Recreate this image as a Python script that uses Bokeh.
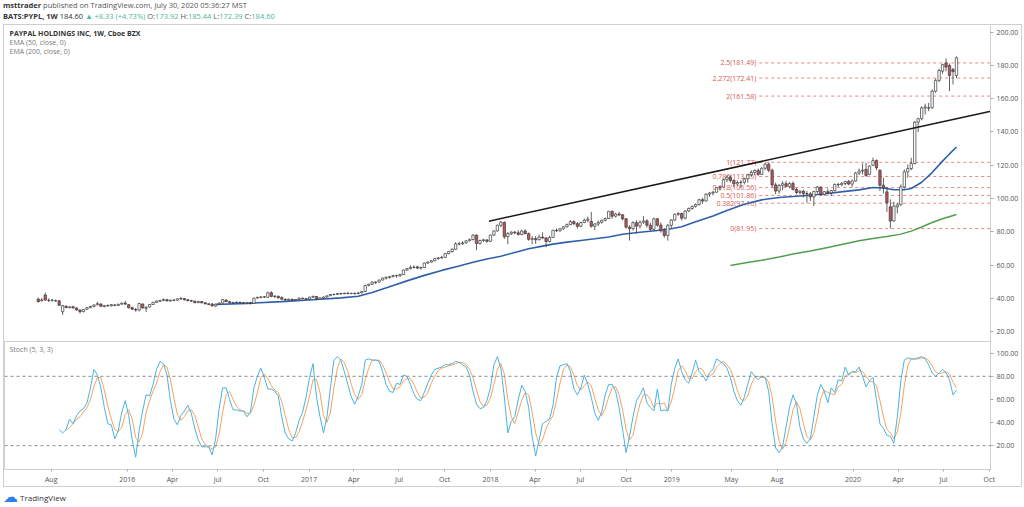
import numpy as np
import pandas as pd
from bokeh.plotting import figure
from bokeh.models import (FixedTicker, PrintfTickFormatter, Label, Div,
                          Range1d, Span)
from bokeh.layouts import column
from bokeh.embed import file_html
from bokeh.resources import INLINE
from bokeh.core.properties import value

# ---------------- data ----------------
first_week = "2015-07-06"

opens = [
    39.5, 39.0, 42.0, 38.8, 38.9, 38.6, 38.5, 32.0, 35.2, 34.4,
    34.9, 34.2, 33.0, 32.0, 33.4, 34.4, 35.1, 36.1, 36.6, 35.0,
    35.6, 35.5, 36.0, 35.8, 36.5, 37.2, 36.2, 34.4, 33.3, 33.0,
    36.6, 34.0, 34.8, 36.3, 37.6, 38.2, 38.8, 39.2, 38.4, 38.9,
    38.9, 39.7, 39.9, 39.2, 38.6, 38.3, 37.4, 38.1, 37.3, 36.7,
    36.6, 35.4, 36.6, 37.2, 39.0, 38.0, 37.3, 37.5, 37.6, 37.4,
    37.1, 37.2, 37.0, 40.2, 40.6, 40.9, 40.6, 43.4, 41.1, 41.3,
    40.4, 39.4, 39.0, 39.4, 38.9, 39.3, 40.0, 39.8, 39.6, 40.7,
    41.1, 39.5, 40.2, 40.8, 41.6, 42.3, 42.4, 42.9, 42.8, 43.1,
    42.9, 43.0, 42.9, 43.3, 44.1, 47.8, 48.5, 49.7, 49.8, 51.0,
    52.2, 52.6, 53.0, 53.7, 53.5, 54.3, 57.0, 57.9, 58.6, 58.9,
    58.2, 58.5, 61.2, 61.8, 62.6, 63.9, 64.3, 64.6, 66.9, 68.1,
    69.5, 72.7, 72.8, 73.4, 74.6, 75.3, 78.0, 73.0, 74.8, 75.1,
    74.3, 78.0, 80.5, 83.9, 85.6, 77.0, 78.9, 79.8, 79.4, 78.4,
    80.5, 78.9, 75.5, 75.9, 75.2, 76.8, 76.3, 74.2, 76.6, 80.9,
    80.6, 81.8, 83.0, 84.3, 86.1, 84.9, 83.3, 85.6, 86.9, 86.3,
    83.3, 84.7, 85.7, 86.9, 88.0, 92.3, 89.4, 90.7, 90.2, 87.8,
    82.8, 81.9, 85.5, 83.4, 85.8, 86.5, 84.0, 81.5, 87.8, 84.0,
    80.6, 77.8, 83.9, 87.1, 90.5, 91.0, 88.2, 92.5, 94.0, 95.3,
    96.4, 99.3, 98.5, 102.6, 103.3, 103.8, 106.5, 106.9, 111.3, 112.8,
    110.9, 108.8, 109.6, 109.8, 111.8, 114.3, 115.7, 116.9, 114.5, 118.2,
    120.6, 117.0, 108.2, 104.5, 107.9, 108.9, 107.3, 109.0, 105.5, 103.6,
    104.4, 103.0, 102.8, 101.0, 104.2, 106.9, 102.5, 104.1, 103.4, 104.8,
    108.5, 108.3, 109.0, 110.2, 108.7, 110.5, 115.3, 116.5, 117.5, 114.5,
    120.0, 122.8, 117.0, 108.0, 104.0, 95.0, 86.5, 95.0, 96.2, 107.0,
    116.0, 118.0, 121.0, 145.9, 148.0, 154.5, 154.2, 154.6, 164.5, 171.0,
    176.5, 181.5, 180.0, 177.5, 173.92,
]
highs = [
    40.5, 40.2, 43.5, 40.0, 39.4, 39.3, 38.9, 36.0, 35.8, 35.2,
    35.6, 34.6, 33.3, 33.6, 34.6, 35.6, 36.4, 37.9, 37.0, 35.9,
    36.4, 36.6, 36.5, 36.8, 37.5, 38.5, 36.6, 35.0, 34.2, 37.3,
    36.9, 35.2, 36.6, 37.8, 38.7, 39.0, 39.9, 39.6, 39.2, 39.5,
    40.0, 40.9, 40.2, 39.6, 39.1, 38.7, 38.5, 38.3, 37.8, 37.1,
    37.2, 36.8, 37.5, 39.6, 39.4, 38.5, 37.9, 38.1, 38.0, 37.8,
    37.6, 37.9, 40.4, 41.0, 41.2, 41.4, 44.0, 44.3, 41.8, 41.5,
    41.2, 39.9, 39.8, 39.8, 39.6, 40.5, 40.6, 40.2, 41.0, 41.6,
    41.3, 40.6, 41.0, 41.7, 42.6, 42.9, 43.2, 43.3, 43.4, 43.6,
    43.3, 43.5, 43.6, 44.5, 48.2, 48.8, 50.2, 50.3, 51.2, 52.6,
    53.0, 53.5, 54.1, 54.2, 54.8, 57.2, 58.1, 59.9, 59.8, 59.6,
    59.0, 61.5, 62.1, 63.0, 64.2, 64.9, 65.6, 67.3, 68.4, 70.0,
    73.8, 73.9, 74.4, 74.9, 76.0, 78.6, 78.4, 75.2, 75.8, 75.6,
    78.3, 80.8, 84.4, 86.4, 86.3, 79.8, 80.3, 80.5, 81.0, 81.2,
    81.5, 79.6, 77.5, 77.4, 78.3, 79.7, 76.9, 77.6, 81.3, 82.0,
    82.3, 83.4, 85.0, 87.0, 86.8, 85.8, 86.0, 88.0, 89.1, 92.0,
    85.2, 86.8, 87.2, 88.6, 92.6, 92.8, 91.3, 91.9, 90.6, 88.2,
    84.0, 86.3, 87.0, 86.8, 89.4, 87.6, 85.6, 88.6, 88.4, 85.6,
    82.3, 84.6, 87.6, 91.0, 91.8, 91.5, 93.0, 94.6, 95.8, 97.0,
    99.8, 100.4, 103.2, 104.0, 104.6, 106.8, 107.4, 111.8, 113.8, 114.0,
    111.5, 110.9, 111.0, 112.5, 114.8, 117.0, 117.5, 118.0, 118.8, 121.5,
    121.8, 118.0, 109.5, 108.7, 110.4, 110.6, 110.0, 110.3, 106.4, 105.0,
    105.3, 104.5, 103.9, 104.6, 107.6, 107.3, 104.5, 106.0, 105.2, 109.0,
    109.4, 109.9, 110.6, 111.2, 111.5, 116.0, 118.0, 121.0, 121.5, 120.0,
    124.5, 123.5, 117.5, 112.5, 107.0, 99.5, 98.0, 97.5, 108.5, 117.5,
    120.5, 124.5, 146.5, 148.5, 155.5, 157.0, 157.5, 165.5, 172.0, 178.0,
    181.0, 184.3, 181.2, 178.5, 185.44,
]
lows = [
    37.6, 38.0, 38.5, 37.8, 38.0, 37.8, 35.6, 30.0, 34.0, 34.0,
    34.0, 32.6, 30.9, 31.6, 33.1, 34.0, 34.6, 35.8, 35.0, 34.7,
    35.2, 35.1, 35.3, 35.4, 36.2, 36.4, 34.0, 33.0, 32.0, 32.2,
    33.8, 31.8, 34.5, 36.0, 37.3, 37.8, 38.3, 38.2, 38.1, 38.3,
    38.5, 39.0, 38.6, 38.2, 37.9, 37.0, 37.1, 37.0, 36.5, 35.9,
    35.0, 34.8, 36.3, 37.0, 37.8, 37.0, 36.8, 37.1, 37.2, 36.9,
    36.6, 36.3, 36.8, 39.8, 40.0, 40.2, 40.4, 40.7, 40.2, 39.9,
    38.9, 38.5, 38.6, 38.3, 38.5, 39.0, 39.5, 39.1, 39.4, 40.3,
    39.2, 39.0, 39.6, 40.5, 41.4, 41.8, 42.0, 42.3, 42.5, 42.4,
    42.5, 42.3, 42.4, 43.0, 43.9, 47.2, 48.2, 48.6, 49.5, 50.8,
    51.3, 51.8, 52.6, 52.4, 53.0, 54.0, 56.6, 57.4, 57.9, 57.6,
    57.4, 58.2, 60.8, 61.5, 62.3, 63.2, 63.9, 64.4, 66.5, 67.6,
    69.0, 71.8, 72.1, 72.8, 74.2, 74.9, 69.0, 72.4, 73.9, 73.4,
    74.0, 77.6, 80.2, 82.7, 75.7, 72.5, 78.0, 78.6, 77.8, 77.9,
    78.4, 74.6, 72.5, 72.8, 74.9, 75.8, 70.7, 73.6, 76.4, 79.9,
    80.1, 81.3, 82.6, 84.0, 84.1, 81.9, 82.8, 85.2, 85.7, 82.5,
    81.0, 83.4, 84.9, 86.3, 87.8, 87.9, 88.6, 89.5, 87.0, 81.9,
    74.7, 80.8, 79.0, 82.0, 84.7, 82.6, 80.6, 80.9, 83.0, 79.5,
    76.5, 74.7, 82.0, 86.5, 89.6, 86.8, 87.4, 91.8, 93.2, 94.6,
    95.8, 96.8, 98.2, 101.0, 101.8, 103.5, 104.9, 106.6, 109.8, 109.6,
    106.8, 107.8, 106.6, 108.5, 109.5, 113.0, 114.0, 113.7, 114.3, 117.0,
    115.8, 106.5, 102.6, 102.9, 105.0, 106.8, 106.2, 104.8, 102.6, 102.4,
    100.6, 97.5, 98.5, 95.5, 103.0, 101.5, 101.7, 102.6, 101.5, 104.2,
    106.9, 107.4, 107.9, 108.0, 107.0, 110.0, 114.0, 114.5, 113.0, 114.0,
    119.5, 117.0, 104.5, 103.0, 92.0, 82.07, 86.0, 91.0, 95.8, 106.0,
    112.5, 117.0, 120.5, 140.0, 147.0, 150.5, 152.5, 154.0, 163.5, 170.0,
    175.0, 176.5, 164.5, 168.5, 172.39,
]
closes = [
    38.0, 38.8, 39.0, 38.9, 39.0, 38.5, 35.8, 35.6, 34.5, 34.9,
    34.2, 33.0, 32.0, 33.2, 34.4, 35.1, 36.0, 36.8, 35.2, 35.6,
    35.4, 36.2, 35.8, 36.4, 37.1, 36.5, 34.3, 33.5, 33.0, 36.9,
    34.2, 34.6, 36.3, 37.6, 38.4, 38.8, 39.2, 38.4, 38.9, 38.8,
    39.7, 39.9, 39.2, 38.6, 38.3, 37.4, 38.1, 37.3, 36.7, 36.3,
    35.5, 36.5, 37.2, 39.2, 38.0, 37.4, 37.5, 37.6, 37.4, 37.1,
    37.2, 37.0, 40.1, 40.6, 40.9, 40.8, 43.3, 41.2, 41.4, 40.3,
    39.5, 39.0, 39.5, 38.9, 39.3, 40.1, 39.8, 39.5, 40.7, 41.2,
    39.6, 40.3, 40.8, 41.5, 42.3, 42.3, 42.9, 42.7, 43.1, 42.9,
    43.0, 42.8, 43.3, 44.1, 47.7, 48.5, 49.8, 49.6, 51.0, 52.2,
    52.7, 53.0, 53.7, 53.6, 54.3, 57.0, 57.9, 58.6, 58.8, 58.2,
    58.5, 61.2, 61.8, 62.6, 63.9, 64.3, 64.6, 66.9, 68.1, 69.6,
    72.7, 72.8, 73.3, 74.6, 75.3, 78.0, 73.0, 74.8, 75.2, 74.3,
    78.0, 80.5, 83.9, 85.8, 77.0, 78.9, 79.8, 79.4, 78.4, 80.5,
    78.9, 75.5, 75.9, 75.2, 76.8, 76.3, 74.2, 76.6, 80.9, 80.6,
    81.8, 83.0, 84.3, 86.1, 84.9, 83.3, 85.6, 86.9, 87.6, 83.3,
    84.7, 85.7, 86.9, 88.0, 92.3, 89.4, 90.7, 90.2, 87.8, 82.8,
    81.9, 85.5, 83.4, 85.8, 86.5, 84.0, 81.5, 87.8, 84.0, 80.6,
    77.8, 83.9, 87.1, 90.5, 91.0, 88.2, 92.5, 94.0, 95.3, 96.4,
    99.3, 98.5, 102.6, 103.3, 103.8, 106.5, 106.9, 111.3, 112.8, 110.9,
    108.8, 109.6, 109.8, 111.8, 114.3, 115.7, 116.9, 114.5, 118.2, 120.6,
    117.0, 108.2, 104.5, 107.9, 108.9, 107.3, 109.0, 105.5, 103.6, 104.4,
    103.0, 102.8, 101.0, 104.2, 106.9, 102.5, 104.1, 103.4, 104.8, 108.5,
    108.3, 109.0, 110.2, 108.7, 110.5, 115.3, 116.5, 117.0, 113.9, 119.5,
    122.8, 118.5, 108.0, 106.5, 97.5, 86.5, 95.5, 96.2, 107.0, 116.0,
    118.0, 121.0, 145.9, 148.0, 154.5, 155.0, 154.6, 164.5, 171.0, 177.0,
    180.5, 179.0, 174.0, 176.27, 184.60,
]

# Stoch (5, 3, 3): %K from week 6, %D from week 8
stoch_k_first = 6
stoch_k = [
    34, 31, 34, 43, 39, 46, 50, 52, 57, 70, 86, 81, 70, 53, 39, 38, 26, 33, 49, 59,
    46, 25, 10, 33, 50, 64, 63, 73, 86, 93, 91, 81, 59, 43, 38, 46, 50, 55, 48, 35,
    25, 19, 19, 19, 12, 26, 52, 70, 70, 60, 51, 51, 50, 50, 45, 49, 70, 80, 87, 79,
    69, 69, 67, 63, 45, 31, 26, 24,
    31, 42, 49, 62, 79, 91, 62, 45, 31, 45, 70, 94, 97, 94, 84, 73, 62, 56, 63, 73,
    94, 95, 94, 94, 93, 84, 73, 67, 66, 74, 73, 81, 80, 73, 65, 60, 59, 66, 74, 81,
    86, 87, 88, 90, 90, 91, 93, 92, 90, 88, 81, 67, 56, 52, 53, 59, 70, 90, 97, 87,
    62, 31, 41, 45, 60, 72,
    67, 53, 28, 11, 25, 39, 41, 43, 55, 79, 89, 90, 91, 84, 69, 64, 70, 81, 73, 62,
    48, 42, 49, 64, 73, 73, 67, 53, 34, 14, 28, 45, 59, 64, 70, 57, 53, 50, 69, 50,
    51, 50, 73, 87, 95, 84, 77, 74, 83, 94, 84, 81, 76, 83, 86, 95, 93, 91, 87, 79,
    67, 59, 55, 62, 73, 84, 80,
    77, 80, 79, 67, 39, 18, 14, 19, 36, 53, 64, 56, 36, 26, 22, 26, 45, 64, 73, 67,
    57, 70, 66, 77, 76, 88, 81, 84, 84, 88, 80, 71, 76, 79, 60, 39, 35, 29, 28, 22,
    45, 76, 94, 96, 95, 95, 96, 97, 95, 90, 83, 80, 83, 86, 83, 77, 64, 68,
]
stoch_d_first = 8
stoch_d = [
    33, 36, 39, 43, 45, 49, 53, 60, 71, 79, 79, 68, 54, 43, 34, 32, 36, 47, 51, 43,
    27, 23, 31, 49, 59, 67, 74, 84, 90, 88, 77, 61, 47, 42, 45, 50, 51, 46, 36, 26,
    21, 19, 17, 19, 30, 49, 64, 67, 60, 54, 51, 50, 48, 48, 55, 66, 79, 82, 78, 72,
    68, 66, 58, 46, 34, 27, 27, 32, 41, 51, 63, 77, 77, 66, 46, 40, 49, 70, 87, 95,
    92, 84, 73, 64, 60, 64, 77, 87, 94, 94, 94, 90, 83, 75, 69, 69, 71, 76, 78, 78,
    73, 66, 61, 62, 66, 74, 80, 85, 87, 88, 89, 90, 91, 92, 92, 90, 86, 79, 68, 58,
    54, 55, 61, 73, 86, 91, 82, 60, 45, 39, 49, 59, 66, 64, 49, 31, 21, 25, 35, 41,
    46, 59, 74, 86, 90, 88, 81, 72, 68, 72, 75, 72, 61, 51, 46, 52, 62, 70, 71, 64,
    51, 34, 25, 29, 44, 56, 64, 64, 60, 53, 57, 56, 57, 50, 58, 70, 85, 89, 85, 78,
    78, 84, 87, 86, 80, 80, 82, 88, 91, 93, 90, 86, 78, 68, 60, 59, 63, 73, 79, 80,
    79, 79, 75, 62, 41, 24, 17, 23, 36, 51, 58, 52, 39, 28, 25, 31, 45, 61, 68, 66,
    65, 64, 71, 73, 80, 82, 84, 83, 85, 84, 80, 76, 75, 72, 59, 45, 34, 31, 26, 32,
    48, 72, 89, 95, 95, 95, 96, 96, 94, 89, 84, 82, 83, 84, 82, 75, 70,
]

ema50_week = [51, 60, 70, 80, 87, 92, 96, 101, 106, 111, 116, 121, 125, 129, 133,
              137, 141, 145, 148, 152, 156, 160, 164, 168, 173, 178, 182, 185, 189,
              194, 198, 203, 208, 213, 217, 222, 227, 232, 236, 240, 243, 246, 249,
              251, 254, 257, 260, 262, 264]
ema50_value = [36.3, 37.0, 38.0, 39.3, 40.3, 41.3, 43.5, 47.0, 50.5, 53.8, 56.8,
               59.5, 61.7, 63.6, 65.3, 67.6, 69.8, 71.4, 72.6, 73.8, 74.8, 75.8,
               76.9, 78.5, 79.7, 80.8, 81.8, 83.0, 86.0, 89.5, 92.8, 96.5, 99.2,
               100.6, 101.2, 102.0, 103.0, 104.3, 105.2, 106.6, 106.3, 105.3, 105.3,
               106.0, 109.8, 115.6, 122.5, 126.8, 131.0]
ema200_week = [199, 203, 208, 213, 217, 222, 227, 232, 236, 240, 244, 248, 251,
               254, 257, 260, 264]
ema200_value = [59.8, 61.3, 62.9, 64.8, 66.6, 68.5, 70.5, 72.8, 74.6, 76.0, 77.2,
                78.6, 80.4, 82.9, 85.6, 87.8, 90.4]

fib_ratios = ["0", "0.382", "0.5", "0.618", "0.786", "1", "2", "2.272", "2.5"]
fib_prices = [81.95, 97.16, 101.86, 106.56, 113.25, 121.77, 161.58, 172.41, 181.49]
fib_start = "2019-06-26"

trend_dates = ["2017-12-29", "2020-10-04"]
trend_prices = [86.4, 152.5]

price_ticks = [20, 40, 60, 80, 100, 120, 140, 160, 180, 200]
stoch_ticks = [20, 40, 60, 80, 100]
stoch_bands = [80, 20]

time_tick_dates = ["2015-08-01", "2016-01-01", "2016-04-01", "2016-07-01", "2016-10-01",
                   "2017-01-01", "2017-04-01", "2017-07-01", "2017-10-01", "2018-01-01",
                   "2018-04-01", "2018-07-01", "2018-10-01", "2019-01-01", "2019-05-01",
                   "2019-08-01", "2020-01-01", "2020-04-01", "2020-07-01", "2020-10-01"]
time_tick_labels = ["Aug", "2016", "Apr", "Jul", "Oct", "2017", "Apr", "Jul", "Oct", "2018",
                    "Apr", "Jul", "Oct", "2019", "May", "Aug", "2020", "Apr", "Jul", "Oct"]

# ---------------- build ----------------
FONT = "Open Sans"
AXIS_TXT = "#555555"
FRAME = "#cfcfcf"
W = 1017            # inner width of the bordered chart box
RIGHT = 31          # price-scale strip
H_PRICE = 316
H_STOCH = 145
AXIS_H = 16

dates = pd.date_range(first_week, periods=len(closes), freq="7D")
o = np.array(opens); h = np.array(highs); l = np.array(lows); c = np.array(closes)
up = c >= o

x_range = Range1d(pd.Timestamp("2015-04-29"), pd.Timestamp("2020-10-03 12:00"))
week_ms = 7 * 24 * 3600 * 1000


def style_axis(ax, tick_out=3):
    ax.major_label_text_font_size = "7px"
    ax.major_label_text_font = FONT
    ax.major_label_text_color = AXIS_TXT
    ax.axis_line_color = FRAME
    ax.major_tick_line_color = "#aaaaaa"
    ax.major_tick_out = tick_out
    ax.major_tick_in = 0
    ax.minor_tick_line_color = None
    ax.major_label_standoff = 3


p = figure(width=W, height=H_PRICE, x_axis_type="datetime", x_range=x_range,
           y_range=Range1d(14.06, 204.0), x_axis_location=None, y_axis_location="right",
           output_backend="svg", toolbar_location=None,
           min_border_left=0, min_border_right=RIGHT, min_border_top=0, min_border_bottom=0)
p.grid.visible = False
p.outline_line_color = None
p.background_fill_color = "white"
p.border_fill_color = "white"

ya = p.yaxis[0]
ya.ticker = FixedTicker(ticks=price_ticks)
ya.formatter = PrintfTickFormatter(format="%.2f")
style_axis(ya)

# fib levels
fib_end = pd.Timestamp("2020-10-05")
fib_x0 = pd.Timestamp(fib_start)
n_fib = len(fib_prices)
p.segment(x0=[fib_x0] * n_fib, y0=fib_prices, x1=[fib_end] * n_fib, y1=fib_prices,
          line_color="#e68a86", line_width=1, line_dash="3 3")
fib_text = [f"{r}({v:.2f})" for r, v in zip(fib_ratios, fib_prices)]
p.text(x=[fib_x0] * n_fib, y=fib_prices, text=fib_text, x_offset=-3,
       text_align="right", text_baseline="middle", text_font=value(FONT),
       text_font_size="7px", text_color="#d35b54")

# EMAs
p.line(x=dates[ema50_week], y=ema50_value, line_color="#2f60ab", line_width=1.6)
p.line(x=dates[ema200_week], y=ema200_value, line_color="#4f9f4f", line_width=1.5)

# candles
p.segment(x0=dates, y0=l, x1=dates, y1=h, line_color="#3a3a3a", line_width=0.8)
bw = week_ms * 0.68
p.vbar(x=dates[up], width=bw, top=c[up], bottom=o[up], fill_color="white",
       line_color="#3a3a3a", line_width=0.7)
p.vbar(x=dates[~up], width=bw, top=o[~up], bottom=c[~up], fill_color="#c0565b",
       line_color="#3a3a3a", line_width=0.7)

# trend line
p.line(x=pd.to_datetime(trend_dates), y=trend_prices, line_color="#1a1a1a", line_width=1.5)

# legend texts
legend_rows = [("PAYPAL HOLDINGS INC, 1W, Cboe BZX", "#333333", "bold"),
               ("EMA (50, close, 0)", "#7a7a7a", "normal"),
               ("EMA (200, close, 0)", "#7a7a7a", "normal")]
for i, (txt, col, weight) in enumerate(legend_rows):
    p.add_layout(Label(x=5, y=H_PRICE - 8 - i * 9, x_units="screen", y_units="screen",
                       text=txt, text_font=FONT, text_font_size="7px", text_color=col,
                       text_font_style=weight, text_baseline="middle"))

# ---------------- stochastic panel ----------------
s = figure(width=W, height=H_STOCH, x_axis_type="datetime", x_range=x_range,
           y_range=Range1d(-0.6, 110.1), y_axis_location="right",
           output_backend="svg", toolbar_location=None,
           min_border_left=0, min_border_right=RIGHT, min_border_top=0,
           min_border_bottom=AXIS_H)
s.grid.visible = False
s.outline_line_color = FRAME
s.background_fill_color = "white"
s.border_fill_color = "white"

sy = s.yaxis[0]
sy.ticker = FixedTicker(ticks=stoch_ticks)
sy.formatter = PrintfTickFormatter(format="%.2f")
style_axis(sy)

tick_ms = [float(pd.Timestamp(d).value // 10**6) for d in time_tick_dates]
overrides = {}
for t, lab in zip(tick_ms, time_tick_labels):
    overrides[t] = lab
    overrides[str(int(t))] = lab
sx = s.xaxis[0]
sx.ticker = FixedTicker(ticks=tick_ms)
sx.major_label_overrides = overrides
style_axis(sx, tick_out=2)

for lvl in stoch_bands:
    s.add_layout(Span(location=lvl, dimension="width", line_color="#8a8a8a",
                      line_width=1, line_dash="3 3"))

s.line(x=dates[stoch_d_first:], y=stoch_d, line_color="#f2a461", line_width=1)
s.line(x=dates[stoch_k_first:], y=stoch_k, line_color="#4ab2e3", line_width=1)

s.add_layout(Label(x=5, y=H_STOCH - AXIS_H - 9, x_units="screen", y_units="screen",
                   text="Stoch (5, 3, 3)", text_font=FONT, text_font_size="7px",
                   text_color="#7a7a7a", text_baseline="middle"))

# ---------------- page ----------------
teal = "#4fb39f"
header = Div(
    text=(f'<div><b style="color:#333">msttrader</b> published on TradingView.com, '
          f'July 30, 2020 05:36:27 MST</div>'
          f'<div><b style="color:#333">BATS:PYPL, 1W</b> <span style="color:#333">184.60</span> '
          f'<span style="color:{teal}">&#9650; +8.33 (+4.73%)</span> '
          f'O:<span style="color:{teal}">173.92</span> H:<span style="color:{teal}">185.44</span> '
          f'L:<span style="color:{teal}">172.39</span> C:<span style="color:{teal}">184.60</span></div>'),
    width=1020, height=24, margin=(0, 0, 0, 3),
    styles={"font-family": FONT, "font-size": "7.5px", "line-height": "11px",
            "color": "#555555"})

logo = Div(
    text=('<span style="color:#2f80ed;font-family:DejaVu Sans;font-size:15px;'
          'vertical-align:middle">&#9729;</span>'
          '<span style="color:#333;vertical-align:middle"> TradingView</span>'),
    width=1020, height=19, margin=(0, 0, 0, 3),
    styles={"font-family": FONT, "font-size": "8px", "line-height": "19px"})

charts = column(p, s, spacing=0, margin=(0, 0, 0, 3),
                styles={"border": f"1px solid {FRAME}"})
layout = column(header, charts, logo, spacing=0)

open("out.html", "w").write(file_html(layout, INLINE))
